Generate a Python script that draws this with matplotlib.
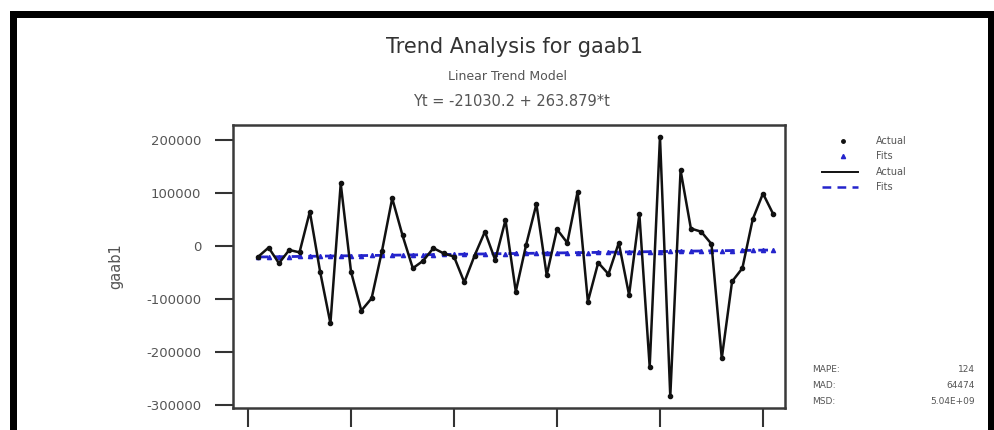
import matplotlib
matplotlib.use("Agg")
import matplotlib.pyplot as plt
from matplotlib.lines import Line2D
from matplotlib.patches import Rectangle

plt.rcParams['font.family'] = ['DejaVu Sans']

# Observations (index 1..51) for gaab1
index = list(range(1, 52))
actual = [
    -20000, -3000, -32700, -7500, -12000, 64700, -48500, -146000, 118000, -48500,
    -122000, -98700, -10000, 90000, 20000, -42000, -28000, -4000, -14000, -20000,
    -68500, -18000, 27000, -26400, 49000, -86000, 2000, 79000, -55000, 31500,
    6000, 102500, -105000, -31500, -53000, 6000, -92500, 60000, -228000, 206000,
    -284000, 143000, 33000, 27000, 3800, -212000, -67000, -42000, 50000, 99000,
    60000,
]

# Linear trend model coefficients
intercept = -21030.2
slope = 263.879
fits = [intercept + slope * t for t in index]

yticks = [200000, 100000, 0, -100000, -200000, -300000]
xticks = [0, 10, 20, 30, 40, 50]

title = "Trend Analysis for gaab1"
subtitle = "Linear Trend Model"
equation = "Yt = -21030.2 + 263.879*t"
ylabel = "gaab1"
legend_labels = ["Actual", "Fits", "Actual", "Fits"]
stat_names = ["MAPE:", "MAD:", "MSD:"]
stat_values = ["124", "64474", "5.04E+09"]

W, H = 994, 430
fig = plt.figure(figsize=(W / 100, H / 100), dpi=100)
fig.patch.set_facecolor("white")

ax = fig.add_axes([233 / W, 1 - 408 / H, (785 - 233) / W, (408 - 125) / H])
blue = "#2424cc"
ax.plot(index, fits, color=blue, lw=2.0, ls=(0, (3.5, 2.5)), marker="^", ms=3,
        mfc=blue, mec=blue, zorder=2)
ax.plot(index, actual, color="#111111", lw=1.8, marker="o", ms=3,
        mfc="#111111", mec="#111111", zorder=3)

ax.set_xlim(-1.46, 52.14)
ax.set_ylim(-305700, 228300)
ax.set_yticks(yticks)
ax.set_yticklabels([str(v) for v in yticks], fontsize=9.5, color="#555555")
ax.set_xticks(xticks)
ax.set_xticklabels([])
ax.tick_params(axis="y", direction="out", length=13, width=1.5, color="#333333", pad=10)
ax.tick_params(axis="x", direction="out", length=14, width=1.5, color="#333333")
for s in ax.spines.values():
    s.set_linewidth(1.8)
    s.set_color("#3a3a3a")
ax.set_ylabel(ylabel, fontsize=10.5, color="#555555", labelpad=16)

# Titles
fig.text(514 / W, 1 - 47 / H, title, ha="center", va="center", fontsize=15,
         color="#333333")
fig.text(508 / W, 1 - 77 / H, subtitle, ha="center", va="center", fontsize=9,
         color="#555555")
fig.text(511 / W, 1 - 102 / H, equation, ha="center", va="center", fontsize=10.5,
         color="#555555")

# Legend
lx0, lx1, tx = 822 / W, 858 / W, 876 / W
rows = [141, 156, 172, 187]
fig.add_artist(Line2D([843 / W], [1 - rows[0] / H], marker="o", ms=2.5,
                      color="#111111", ls="none"))
fig.add_artist(Line2D([843 / W], [1 - rows[1] / H], marker="^", ms=3,
                      color=blue, ls="none"))
fig.add_artist(Line2D([lx0, lx1], [1 - rows[2] / H] * 2, color="#111111", lw=1.4))
fig.add_artist(Line2D([lx0, lx1], [1 - rows[3] / H] * 2, color=blue, lw=1.8,
                      ls=(0, (3.5, 2.5))))
for r, lab in zip(rows, legend_labels):
    fig.text(tx, 1 - r / H, lab, ha="left", va="center", fontsize=7, color="#555555")

# Accuracy measures
for r, name, val in zip([370, 386, 402], stat_names, stat_values):
    fig.text(812 / W, 1 - r / H, name, ha="left", va="center", fontsize=6.5,
             color="#555555")
    fig.text(975 / W, 1 - r / H, val, ha="right", va="center", fontsize=6.5,
             color="#555555")

# Heavy outer frame
fig.add_artist(Rectangle((10 / W, 1 - 18 / H), (W - 10) / W, 7 / H,
                         transform=fig.transFigure, color="black", lw=0))
fig.add_artist(Rectangle((10 / W, 0), 7 / W, (H - 11) / H,
                         transform=fig.transFigure, color="black", lw=0))
fig.add_artist(Rectangle((988 / W, 0), 6 / W, (H - 11) / H,
                         transform=fig.transFigure, color="black", lw=0))

fig.savefig("out.png", dpi=100, facecolor="white")
